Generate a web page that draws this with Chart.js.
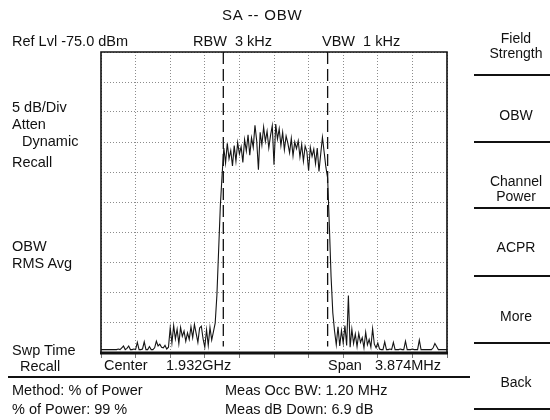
<!DOCTYPE html>
<html>
<head>
<meta charset="utf-8">
<script src="https://cdn.jsdelivr.net/npm/chart.js@4.4.1/dist/chart.umd.min.js"></script>
<style>
  body { margin: 0; background: #fff; }
  #wrap { position: relative; width: 550px; height: 420px; background: #fff; overflow: hidden; }
  #obw { position: absolute; left: 0; top: 0; }
  .t { position: absolute; font-family: "Liberation Sans", Arial, sans-serif; font-size: 14.5px; line-height: 14.5px; color: #111; white-space: pre; }
  .m { font-size: 14px; line-height: 15px; text-align: center; width: 80px; left: 476px; }
  .rule { position: absolute; height: 0; border-top: 2px solid #111; }
</style>
</head>
<body>
<div id="wrap">
  <canvas id="obw" width="550" height="420"></canvas>

  <div class="t" style="left:222px;top:8px;font-size:15px;letter-spacing:0.8px;">SA -- OBW</div>
  <div class="t" style="left:12px;top:34px;">Ref Lvl -75.0 dBm</div>
  <div class="t" style="left:193px;top:34px;">RBW  3 kHz</div>
  <div class="t" style="left:322px;top:34px;">VBW  1 kHz</div>

  <div class="t" style="left:12px;top:100px;">5 dB/Div</div>
  <div class="t" style="left:12px;top:117px;">Atten</div>
  <div class="t" style="left:22px;top:134px;">Dynamic</div>
  <div class="t" style="left:12px;top:155px;">Recall</div>
  <div class="t" style="left:12px;top:239px;">OBW</div>
  <div class="t" style="left:12px;top:256px;">RMS Avg</div>
  <div class="t" style="left:12px;top:343px;">Swp Time</div>
  <div class="t" style="left:20px;top:359px;">Recall</div>

  <div class="t" style="left:104px;top:358px;">Center</div>
  <div class="t" style="left:166px;top:358px;">1.932GHz</div>
  <div class="t" style="left:328px;top:358px;">Span</div>
  <div class="t" style="left:375px;top:358px;">3.874MHz</div>

  <div class="rule" style="left:8px;top:376px;width:462px;"></div>

  <div class="t" style="left:12px;top:383px;">Method: % of Power</div>
  <div class="t" style="left:12px;top:402px;">% of Power: 99 %</div>
  <div class="t" style="left:225px;top:383px;">Meas Occ BW: 1.20 MHz</div>
  <div class="t" style="left:225px;top:402px;">Meas dB Down: 6.9 dB</div>

  <div class="t m" style="top:31px;">Field<br>Strength</div>
  <div class="rule" style="left:474px;top:74px;width:76px;"></div>
  <div class="t m" style="top:108px;">OBW</div>
  <div class="rule" style="left:474px;top:141px;width:76px;"></div>
  <div class="t m" style="top:174px;">Channel<br>Power</div>
  <div class="rule" style="left:474px;top:207px;width:76px;"></div>
  <div class="t m" style="top:240px;">ACPR</div>
  <div class="rule" style="left:474px;top:275px;width:76px;"></div>
  <div class="t m" style="top:309px;">More</div>
  <div class="rule" style="left:474px;top:342px;width:76px;"></div>
  <div class="t m" style="top:375px;">Back</div>
  <div class="rule" style="left:474px;top:408px;width:76px;"></div>
</div>

<script>
// sweep: 201 bins across the 3.874 MHz span, level in dBm
const sweepDbm = [
  -124.6, -124.6, -124.6, -124.6, -124.6, -124.6, -124.6, -124.6, -124.6, -124.6,
  -124.5, -124.6, -124.3, -124.0, -124.6, -124.4, -124.0, -124.6, -124.6, -124.5,
  -124.6, -123.4, -124.6, -124.6, -124.5, -123.3, -124.6, -124.6, -124.1, -124.6,
  -124.6, -124.3, -123.2, -124.0, -123.7, -124.2, -124.3, -123.9, -124.5, -124.2,
  -121.0, -123.5, -120.6, -122.8, -121.2, -123.6, -120.9, -122.4, -121.5, -123.2,
  -121.8, -122.9, -120.8, -122.6, -120.4, -121.9, -123.4, -121.0, -120.7, -122.8,
  -124.2, -121.3, -123.9, -120.9, -123.0, -121.6,
  -120.2, -115.5, -108.0, -100.5, -95.5,
  -91.0, -93.5, -90.2, -92.8, -91.4, -94.0, -90.6, -93.2, -90.1, -92.0,
  -90.8, -93.4, -89.6, -91.5, -88.8, -92.2, -89.3, -90.9, -87.2, -89.8,
  -94.6, -88.4, -90.5, -87.5, -89.9, -88.2, -91.0, -88.9, -87.3, -93.8,
  -87.0, -89.5, -87.8, -90.6, -88.4, -91.3, -89.0, -90.2, -91.8, -89.4,
  -92.3, -90.0, -91.1, -89.8, -92.5, -90.4, -93.2, -90.7, -91.6, -94.8,
  -90.9, -92.4, -91.2, -93.6, -91.0, -94.9, -92.0, -89.2, -91.7, -94.2,
  -96.0, -104.0, -112.5, -118.5, -121.5,
  -123.8, -120.8, -124.0, -121.4, -123.5, -120.6, -123.9, -115.6, -124.2, -121.2,
  -123.6, -122.0, -124.1, -121.9, -123.4, -122.6, -124.3, -121.7, -123.8, -122.9,
  -124.2, -121.1, -123.7, -124.3, -123.5,
  -124.5, -124.6, -124.6, -123.3, -124.6, -124.6, -124.5, -124.6, -123.4, -124.6,
  -124.6, -124.6, -124.5, -124.6, -124.6, -123.2, -124.6, -124.6, -124.6, -124.5,
  -124.6, -124.6, -124.6, -123.0, -124.6, -124.6, -124.6, -124.6, -124.6, -124.6,
  -124.6, -124.3, -123.6, -124.1, -124.6, -124.6, -124.6, -124.6, -124.6, -124.6
];
// OBW edge markers (bin position) and how far down they reach
const markerBins = [70.7, 131.0];
const markerFoot = -124.1;

const refLvl = -75;
const dbPerDiv = 5;
const lastBin = sweepDbm.length - 1;

const frame = {
  id: 'frame',
  afterDraw(chart) {
    const {ctx, chartArea: a} = chart;
    ctx.save();
    ctx.strokeStyle = '#111';
    ctx.lineWidth = 1.6;
    ctx.beginPath();
    ctx.moveTo(a.left, a.bottom);
    ctx.lineTo(a.left, a.top);
    ctx.lineTo(a.right, a.top);
    ctx.lineTo(a.right, a.bottom);
    ctx.stroke();
    ctx.lineWidth = 3;
    ctx.beginPath();
    ctx.moveTo(a.left - 1, a.bottom + 1);
    ctx.lineTo(a.right + 1, a.bottom + 1);
    ctx.stroke();
    ctx.restore();
  }
};

const ctx = document.getElementById('obw').getContext('2d');
const markerSets = markerBins.map(b => ({
  data: [{x: b, y: refLvl}, {x: b, y: markerFoot}],
  borderColor: '#111',
  borderWidth: 1.3,
  borderDash: [12, 5],
  pointRadius: 0
}));

const obwChart = new Chart(ctx, {
  type: 'line',
  data: {
    datasets: [{
      data: sweepDbm.map((v, i) => ({x: i, y: v})),
      borderColor: '#151515',
      borderWidth: 1.1,
      pointRadius: 0,
      tension: 0
    }, ...markerSets]
  },
  options: {
    responsive: false,
    animation: false,
    events: [],
    layout: {padding: {left: 101, top: 52, right: 103, bottom: 62}},
    plugins: {legend: {display: false}, tooltip: {enabled: false}},
    scales: {
      x: {
        type: 'linear',
        min: 0,
        max: lastBin,
        ticks: {display: false, stepSize: lastBin / 10},
        grid: {color: '#8c8c8c', lineWidth: 1, drawTicks: true, tickLength: 6, tickColor: '#777'},
        border: {display: false, dash: [1, 2]}
      },
      y: {
        min: refLvl - dbPerDiv * 10,
        max: refLvl,
        ticks: {display: false, stepSize: dbPerDiv},
        grid: {color: '#8c8c8c', lineWidth: 1, drawTicks: false},
        border: {display: false, dash: [1, 2]}
      }
    }
  },
  plugins: [frame]
});
</script>
</body>
</html>
